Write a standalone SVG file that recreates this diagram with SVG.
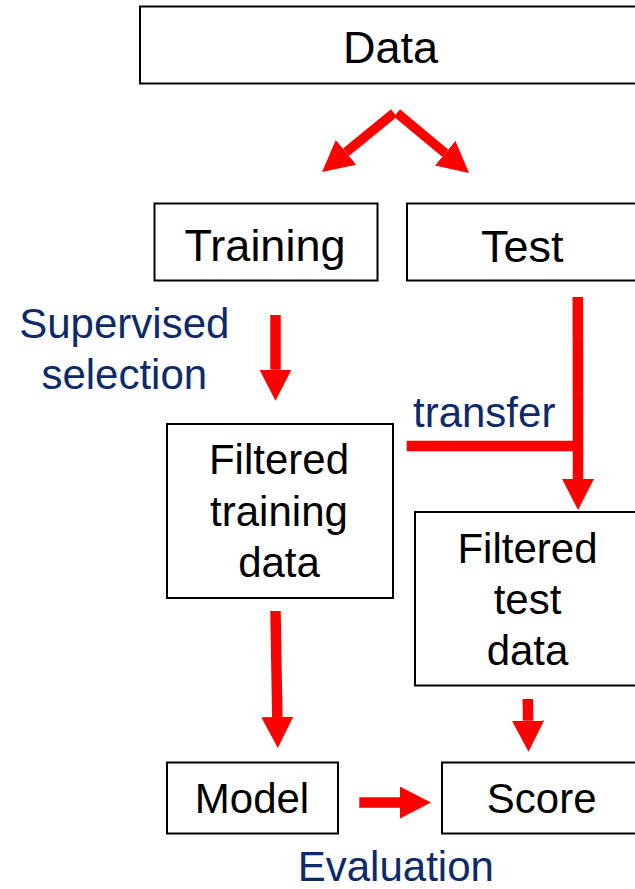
<svg xmlns="http://www.w3.org/2000/svg" width="635" height="889" viewBox="0 0 635 889">
<style>
  .box { fill: #ffffff; stroke: #000000; stroke-width: 2; }
  .lbl { font-family: "Liberation Sans", Arial, sans-serif; fill: #000000; text-anchor: middle; }
  .big { font-size: 45px; }
  .mid { font-size: 42px; }
  .note { font-family: "Liberation Sans", Arial, sans-serif; font-size: 42px; fill: #0d2a6b; }
  .shaft { stroke: #ff0000; stroke-width: 10.5; fill: none; stroke-linecap: butt; }
  .diag { stroke: #ff0000; stroke-width: 9.5; fill: none; stroke-linecap: butt; }
</style>
<defs>
  <marker id="ah" viewBox="0 0 31 32" refX="0" refY="16" markerWidth="31" markerHeight="32" markerUnits="userSpaceOnUse" orient="auto">
    <path d="M0,0 L31,16 L0,32 z" fill="#ff0000"/>
  </marker>
</defs>
<rect width="635" height="889" fill="#ffffff"/>

<g id="connectors">
  <line class="diag" x1="394" y1="113" x2="346" y2="152.3" marker-end="url(#ah)"/>
  <line class="diag" x1="397" y1="113" x2="445.2" y2="153.2" marker-end="url(#ah)"/>
  <line class="shaft" x1="275.5" y1="315" x2="275.5" y2="369.7" marker-end="url(#ah)"/>
  <line class="shaft" x1="406.7" y1="446" x2="583" y2="446"/>
  <line class="shaft" x1="577.8" y1="297" x2="578" y2="479" marker-end="url(#ah)"/>
  <line class="shaft" x1="275.5" y1="611" x2="277.3" y2="717" marker-end="url(#ah)"/>
  <line class="shaft" x1="527.8" y1="699" x2="528.1" y2="720.7" marker-end="url(#ah)"/>
  <line class="shaft" x1="359.3" y1="802.6" x2="400" y2="802.6" marker-end="url(#ah)"/>
</g>

<g id="data">
  <rect class="box" x="140" y="6.5" width="520" height="77"/>
  <text class="lbl big" x="390.5" y="63">Data</text>
</g>
<g id="training">
  <rect class="box" x="154.5" y="203.5" width="223" height="77"/>
  <text class="lbl big" x="265" y="261">Training</text>
</g>
<g id="test">
  <rect class="box" x="407" y="203.5" width="260" height="77"/>
  <text class="lbl big" x="522.3" y="261.5">Test</text>
</g>
<g id="filtered-training">
  <rect class="box" x="167" y="424" width="226" height="174"/>
  <text class="lbl mid" x="279" y="474">Filtered</text>
  <text class="lbl mid" x="279" y="525.5">training</text>
  <text class="lbl mid" x="279" y="577">data</text>
</g>
<g id="filtered-test">
  <rect class="box" x="415" y="512" width="260" height="173.5"/>
  <text class="lbl mid" x="527.5" y="562.5">Filtered</text>
  <text class="lbl mid" x="527.5" y="613.5">test</text>
  <text class="lbl mid" x="527.5" y="664.5">data</text>
</g>
<g id="model">
  <rect class="box" x="167" y="762.5" width="171" height="71"/>
  <text class="lbl mid" x="252" y="813">Model</text>
</g>
<g id="score">
  <rect class="box" x="442" y="762.5" width="240" height="71"/>
  <text class="lbl mid" x="541.7" y="813">Score</text>
</g>

<g id="labels">
  <text class="note" x="124.3" y="338.3" text-anchor="middle">Supervised</text>
  <text class="note" x="124.3" y="389" text-anchor="middle">selection</text>
  <text class="note" x="413" y="426.7">transfer</text>
  <text class="note" x="395.8" y="881" text-anchor="middle">Evaluation</text>
</g>
</svg>
